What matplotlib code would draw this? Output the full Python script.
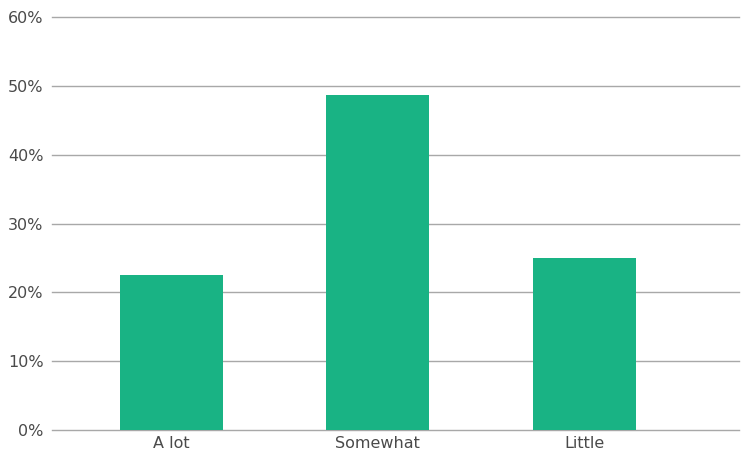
import numpy as np
import matplotlib.pyplot as plt
from matplotlib.ticker import FuncFormatter

categories = ["A lot", "Somewhat", "Little"]
shares = [22.5, 48.7, 25.0]  # percent

fig = plt.figure(figsize=(7.47, 4.57), dpi=100)
ax = fig.add_axes([52/747, 27/457, (739-52)/747, (430-17.3)/457])

x = np.arange(len(categories))
ax.bar(x, shares, width=0.5, color="#19b384", zorder=3)

ax.set_ylim(0, 60)
ax.set_xlim(-0.579, 2.75)
ax.set_yticks(np.arange(0, 61, 10))
ax.yaxis.set_major_formatter(FuncFormatter(lambda v, p: f"{int(v)}%"))
ax.set_xticks(x)
ax.set_xticklabels(categories)

ax.grid(axis="y", color="#a8a8a8", linewidth=1.0, zorder=0)
for gl in ax.get_ygridlines():
    gl.set_clip_on(False)
for s in ax.spines.values():
    s.set_visible(False)
ax.tick_params(axis="both", length=0, labelsize=11.5, colors="#4a4a4a")
ax.tick_params(axis="y", pad=6)
ax.tick_params(axis="x", pad=4)

fig.savefig("out.png", dpi=100)
